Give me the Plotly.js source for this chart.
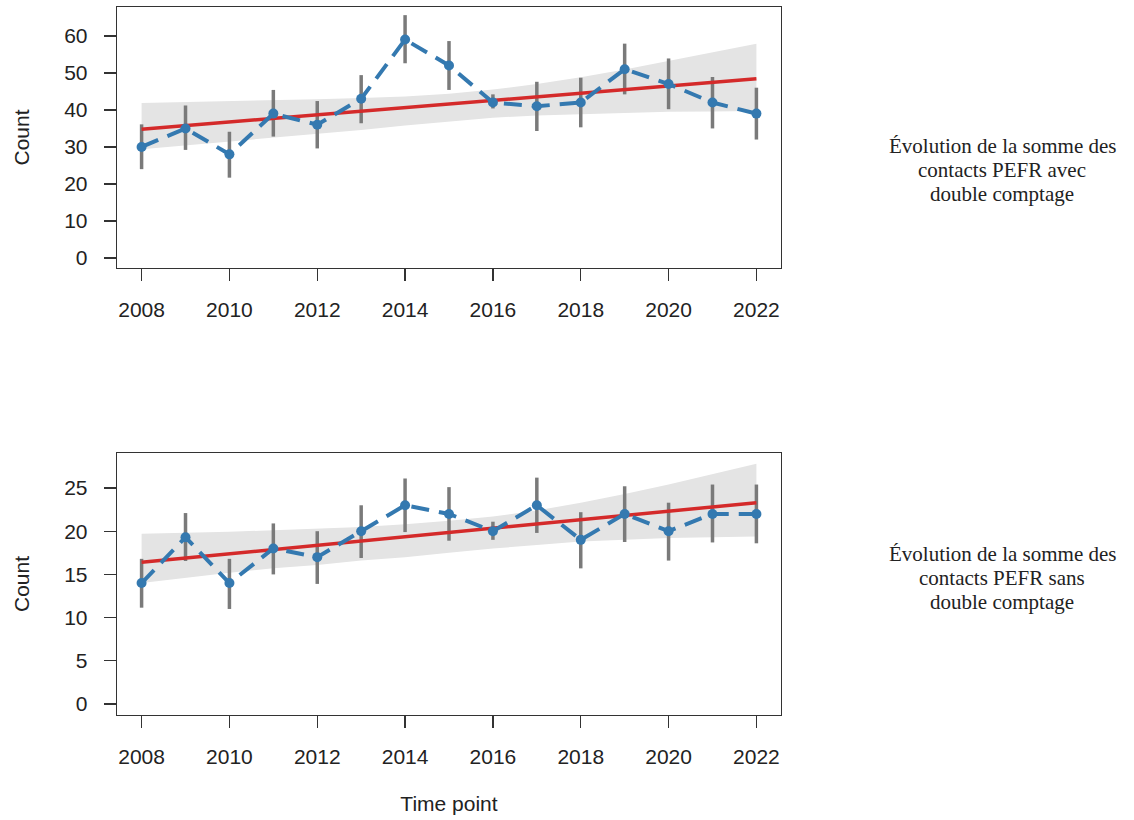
<!DOCTYPE html>
<html>
<head>
<meta charset="utf-8">
<script src="https://cdn.plot.ly/plotly-3.0.1.min.js"></script>
<style>html,body{margin:0;padding:0;background:#fff;}#chart{width:1134px;height:820px;}</style>
</head>
<body>
<div id="chart"></div>
<script>
// ---- data ----
const years = [2008,2009,2010,2011,2012,2013,2014,2015,2016,2017,2018,2019,2020,2021,2022];

const topValues = [30,35,28,39,36,43,59,52,42,41,42,51,47,42,39];
const topLow    = [24,29.2,21.7,32.8,29.6,36.4,52.6,45.4,40.4,34.3,35.3,44.2,40.2,35,32];
const topHigh   = [36.1,41.2,34.1,45.4,42.4,49.4,65.6,58.6,44.2,47.6,48.7,57.9,53.9,48.9,46];
const topBandUpper = [41.9,42.1,42.3,42.6,42.9,43.2,43.6,44.4,45.5,47.0,48.8,50.9,53.2,55.5,57.9];
const topBandLower = [29.4,30.4,31.4,32.4,33.4,34.6,35.8,36.9,37.9,38.5,38.9,39.2,39.5,39.6,39.7];
const trendYears = [2008,2022];
const topTrend = [34.8,48.4];

const botValues = [14,19.3,14,18,17,20,23,22,20,23,19,22,20,22,22];
const botLow    = [11.15,16.55,11.0,15.0,13.9,16.9,19.9,18.9,19.0,19.8,15.7,18.75,16.6,18.7,18.6];
const botHigh   = [16.8,22.1,16.8,20.9,20.0,23.0,26.1,25.1,21.1,26.2,22.2,25.2,23.3,25.4,25.4];
const botBandUpper = [19.7,19.8,19.95,20.1,20.3,20.5,20.8,21.2,21.7,22.4,23.3,24.3,25.4,26.6,27.8];
const botBandLower = [14.0,14.6,15.2,15.7,16.1,16.6,17.0,17.5,18.0,18.4,18.8,19.0,19.2,19.3,19.4];
const botTrend = [16.4,23.3];

const xTicks = [2008,2010,2012,2014,2016,2018,2020,2022];
const topYTicks = [0,10,20,30,40,50,60];
const botYTicks = [0,5,10,15,20,25];

const topLabel = ["Évolution de la somme des","contacts PEFR avec","double comptage"];
const botLabel = ["Évolution de la somme des","contacts PEFR sans","double comptage"];

// ---- styles ----
const BLUE = '#3479b0', RED = '#d42a2a', GREY = '#7a7a7a', BAND = '#e4e4e4';

function panel(xa, ya, vals, lo, hi, bu, bl, tr) {
  return [
    {x: years, y: bl, xaxis: xa, yaxis: ya, mode: 'lines', line: {width: 0, color: BAND}, hoverinfo: 'skip', showlegend: false},
    {x: years, y: bu, xaxis: xa, yaxis: ya, mode: 'lines', fill: 'tonexty', fillcolor: BAND, line: {width: 0, color: BAND}, hoverinfo: 'skip', showlegend: false},
    {x: years, y: vals, xaxis: xa, yaxis: ya, mode: 'markers', marker: {size: 1, color: 'rgba(0,0,0,0)'}, showlegend: false,
     error_y: {type: 'data', symmetric: false, array: hi.map((h,i)=>h-vals[i]), arrayminus: vals.map((v,i)=>v-lo[i]), color: GREY, thickness: 3.5, width: 0}},
    {x: trendYears, y: tr, xaxis: xa, yaxis: ya, mode: 'lines', line: {color: RED, width: 3.5}, showlegend: false},
    {x: years, y: vals, xaxis: xa, yaxis: ya, mode: 'lines+markers', line: {color: BLUE, width: 4, dash: '18px,10px'},
     marker: {color: BLUE, size: 10}, showlegend: false}
  ];
}

const data = panel('x','y',topValues,topLow,topHigh,topBandUpper,topBandLower,topTrend)
  .concat(panel('x2','y2',botValues,botLow,botHigh,botBandUpper,botBandLower,botTrend));

const W = 1134, H = 820;
const xDom = [117/W, 781/W];
const tickFont = {family: 'Liberation Sans, Arial, sans-serif', size: 21, color: '#222'};
const axCommon = {showline: true, mirror: true, linecolor: '#333', linewidth: 1.3, showgrid: false, zeroline: false,
  ticks: 'outside', ticklen: 12, tickwidth: 1.3, tickcolor: '#333', tickfont: tickFont};

function xaxis(anchor) {
  return Object.assign({}, axCommon, {domain: xDom, range: [2007.44, 2022.56], tickmode: 'array', tickvals: xTicks,
    ticktext: xTicks.map(String), anchor: anchor, ticklabelstandoff: 10});
}

const annFont = {family: 'Liberation Serif, Times New Roman, serif', size: 21, color: '#222'};
const annotations = [];
function addLabel(lines, yc) {
  lines.forEach((t,i) => annotations.push({text: t, xref: 'paper', yref: 'paper', x: 1002/W, y: 1 - (yc + (i-1)*24)/H,
    xanchor: 'center', yanchor: 'middle', showarrow: false, font: annFont}));
}
addLabel(topLabel, 170);
addLabel(botLabel, 578);

const layout = {
  width: W, height: H, margin: {l: 0, r: 0, t: 0, b: 0}, paper_bgcolor: '#fff', plot_bgcolor: '#fff',
  showlegend: false,
  xaxis: xaxis('y'),
  yaxis: Object.assign({}, axCommon, {domain: [1-268/H, 1-7/H], range: [-2.7, 67.8], tickmode: 'array', tickvals: topYTicks,
    ticktext: topYTicks.map(String), ticklabelstandoff: 12,
    title: {text: 'Count', font: tickFont, standoff: 28}}),
  xaxis2: Object.assign(xaxis('y2'), {title: {text: 'Time point', font: tickFont, standoff: 29}}),
  yaxis2: Object.assign({}, axCommon, {domain: [1-715/H, 1-453/H], range: [-1.27, 29.05], tickmode: 'array', tickvals: botYTicks,
    ticktext: botYTicks.map(String), ticklabelstandoff: 12, anchor: 'x2',
    title: {text: 'Count', font: tickFont, standoff: 28}}),
  annotations: annotations
};
layout.xaxis2.anchor = 'y2';

Plotly.newPlot('chart', data, layout, {displayModeBar: false, staticPlot: true});
</script>
</body>
</html>
